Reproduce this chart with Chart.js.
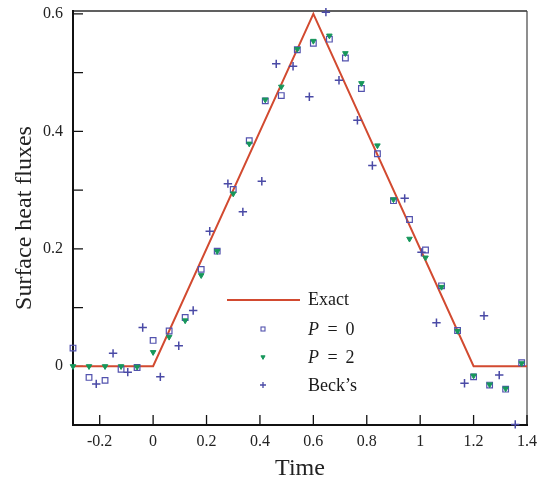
<!DOCTYPE html>
<html>
<head>
<meta charset="utf-8">
<script src="https://cdn.jsdelivr.net/npm/chart.js@4.4.1/dist/chart.umd.min.js"></script>
<style>
  html, body { margin: 0; padding: 0; background: #fff; }
</style>
</head>
<body>
<canvas id="fluxChart" width="537" height="481"></canvas>
<script>
// sample times of the two inverse solutions
const times = [-0.3, -0.24, -0.18, -0.12, -0.06, 0, 0.06, 0.12, 0.18, 0.24,
  0.3, 0.36, 0.42, 0.48, 0.54, 0.6, 0.66, 0.72, 0.78, 0.84,
  0.9, 0.96, 1.02, 1.08, 1.14, 1.2, 1.26, 1.32, 1.38];
const p0Values = [0.031, -0.019, -0.024, -0.005, -0.002, 0.044, 0.060, 0.083, 0.165, 0.196,
  0.301, 0.384, 0.452, 0.461, 0.539, 0.550, 0.557, 0.525, 0.473, 0.362,
  0.282, 0.250, 0.198, 0.137, 0.061, -0.018, -0.032, -0.039, 0.006];
const p2Values = [0, 0, 0, 0, -0.001, 0.024, 0.050, 0.078, 0.155, 0.196,
  0.294, 0.379, 0.454, 0.476, 0.540, 0.554, 0.563, 0.533, 0.482, 0.376,
  0.284, 0.217, 0.185, 0.135, 0.060, -0.016, -0.031, -0.038, 0.005];

// Beck's method
const becksTimes = [-0.213, -0.150, -0.095, -0.039, 0.027, 0.096, 0.150, 0.212, 0.280, 0.336,
  0.407, 0.461, 0.524, 0.585, 0.647, 0.696, 0.765, 0.821, 0.942, 1.005,
  1.061, 1.166, 1.239, 1.296, 1.356];
const becksValues = [-0.030, 0.022, -0.010, 0.066, -0.018, 0.035, 0.095, 0.230, 0.311, 0.263,
  0.315, 0.515, 0.511, 0.459, 0.603, 0.487, 0.419, 0.342, 0.286, 0.194,
  0.074, -0.029, 0.086, -0.015, -0.099];

// exact flux (triangular pulse)
const exactTimes = [-0.3, 0, 0.6, 1.2, 1.4];
const exactValues = [0, 0, 0.6, 0, 0];

const xTickValues = [-0.2, 0, 0.2, 0.4, 0.6, 0.8, 1, 1.2, 1.4];
const yTickValues = [0, 0.2, 0.4, 0.6];
const yMinorTicks = [0.1, 0.3, 0.5];

const seriesNames = ["Exact", "P = 0", "P = 2", "Beck\u2019s"];

const RED = "#d24a30";
const BLUE = "#5252ae";
const GREEN = "#17975b";
const PLUS = "#4a4aa6";
const FONT = "'Liberation Serif', 'DejaVu Serif', serif";

const pts = (xs, ys) => xs.map((x, i) => ({ x: x, y: ys[i] }));

// no extra room for overhanging tick labels, the layout padding handles it
function dropLabelPadding(scale) {
  scale.paddingLeft = 0;
  scale.paddingRight = 0;
  scale.paddingTop = 0;
  scale.paddingBottom = 0;
}

// frame, inward ticks and the in-plot legend
const framePlugin = {
  id: "frame",
  beforeDatasetsDraw(chart) {
    const { ctx, chartArea: a, scales } = chart;
    ctx.save();
    // top and right box lines
    ctx.strokeStyle = "#606060";
    ctx.lineWidth = 2;
    ctx.beginPath();
    ctx.moveTo(a.left, a.top);
    ctx.lineTo(a.right, a.top);
    ctx.stroke();
    ctx.strokeStyle = "#444";
    ctx.lineWidth = 1.2;
    ctx.beginPath();
    ctx.moveTo(a.right, a.top);
    ctx.lineTo(a.right, a.bottom);
    ctx.stroke();

    // inward ticks
    ctx.strokeStyle = "#111";
    ctx.lineWidth = 1.3;
    ctx.beginPath();
    yTickValues.concat(yMinorTicks).forEach((v) => {
      const y = scales.y.getPixelForValue(v);
      ctx.moveTo(a.left, y);
      ctx.lineTo(a.left + 10, y);
    });
    xTickValues.forEach((v) => {
      const x = scales.x.getPixelForValue(v);
      ctx.moveTo(x, a.bottom);
      ctx.lineTo(x, a.bottom - 10);
    });
    ctx.stroke();

    // left and bottom axes
    ctx.strokeStyle = "#111";
    ctx.lineWidth = 2;
    ctx.beginPath();
    ctx.moveTo(a.left, a.top - 1);
    ctx.lineTo(a.left, a.bottom);
    ctx.lineTo(a.right + 1, a.bottom);
    ctx.stroke();
    ctx.restore();
  },
  afterDraw(chart) {
    const { ctx } = chart;
    const lx = 263, tx = 308;
    const rows = [300, 329, 357, 385];
    ctx.save();
    // Exact line
    ctx.strokeStyle = RED;
    ctx.lineWidth = 2;
    ctx.beginPath();
    ctx.moveTo(227, rows[0]);
    ctx.lineTo(300, rows[0]);
    ctx.stroke();
    // markers
    ctx.strokeStyle = BLUE;
    ctx.lineWidth = 1.1;
    ctx.strokeRect(lx - 2, rows[1] - 2, 4, 4);
    ctx.fillStyle = GREEN;
    ctx.strokeStyle = GREEN;
    ctx.lineWidth = 1;
    Chart.helpers.drawPoint(ctx, { pointStyle: "triangle", radius: 2.4, rotation: 180, borderWidth: 1 }, lx, rows[2]);
    ctx.strokeStyle = PLUS;
    ctx.lineWidth = 1.3;
    Chart.helpers.drawPoint(ctx, { pointStyle: "cross", radius: 3, borderWidth: 1.3 }, lx, rows[3]);

    // labels
    ctx.fillStyle = "#1a1a1a";
    ctx.textBaseline = "middle";
    ctx.textAlign = "left";
    ctx.font = "18px " + FONT;
    ctx.fillText(seriesNames[0], tx, rows[0]);
    ctx.fillText(seriesNames[3], tx, rows[3] + 1);
    [1, 2].forEach((k) => {
      const parts = seriesNames[k].split(" = ");
      const y = rows[k] + 1;
      ctx.font = "italic 18px " + FONT;
      ctx.textAlign = "left";
      ctx.fillText(parts[0], tx, y);
      ctx.font = "18px " + FONT;
      ctx.textAlign = "center";
      ctx.fillText("=", tx + 24.5, y);
      ctx.fillText(parts[1], tx + 42, y);
    });
    ctx.restore();
  },
};

const ctx = document.getElementById("fluxChart").getContext("2d");
const fluxChart = new Chart(ctx, {
  type: "scatter",
  data: {
    datasets: [
      {
        label: seriesNames[0],
        type: "line",
        data: pts(exactTimes, exactValues),
        borderColor: RED,
        borderWidth: 2,
        pointRadius: 0,
        fill: false,
        tension: 0,
        order: 4,
        clip: false,
      },
      {
        label: seriesNames[1],
        data: pts(times, p0Values),
        pointStyle: "rect",
        pointRadius: 4,
        borderColor: BLUE,
        backgroundColor: "rgba(255,255,255,0)",
        borderWidth: 1.2,
        order: 3,
        clip: false,
      },
      {
        label: seriesNames[2],
        data: pts(times, p2Values),
        pointStyle: "triangle",
        rotation: 180,
        pointRadius: 3.2,
        borderColor: GREEN,
        backgroundColor: GREEN,
        borderWidth: 1,
        order: 2,
        clip: false,
      },
      {
        label: seriesNames[3],
        data: pts(becksTimes, becksValues),
        pointStyle: "cross",
        pointRadius: 4.2,
        borderColor: PLUS,
        borderWidth: 1.5,
        order: 1,
        clip: false,
      },
    ],
  },
  options: {
    responsive: false,
    animation: false,
    events: [],
    layout: { padding: { top: 11, right: 10, left: 0, bottom: 0 } },
    plugins: {
      legend: { display: false },
      tooltip: { enabled: false },
    },
    scales: {
      x: {
        type: "linear",
        min: -0.3,
        max: 1.4,
        afterBuildTicks: (scale) => {
          scale.ticks = xTickValues.map((v) => ({ value: v }));
        },
        afterFit: (scale) => {
          scale.height = 56;
          dropLabelPadding(scale);
        },
        grid: { display: false, drawTicks: false },
        border: { display: false },
        ticks: {
          color: "#222",
          font: { family: FONT, size: 16 },
          padding: 7,
          autoSkip: false,
          maxRotation: 0,
          callback: (v) => String(v),
        },
        title: {
          display: true,
          text: "Time",
          color: "#222",
          font: { family: FONT, size: 24, lineHeight: 1 },
          padding: { top: 0, bottom: 0 },
        },
      },
      y: {
        min: -0.1,
        max: 0.605,
        afterBuildTicks: (scale) => {
          scale.ticks = yTickValues.map((v) => ({ value: v }));
        },
        afterFit: (scale) => {
          scale.width = 73;
          dropLabelPadding(scale);
        },
        grid: { display: false, drawTicks: false },
        border: { display: false },
        ticks: {
          color: "#222",
          font: { family: FONT, size: 16 },
          padding: 10,
          autoSkip: false,
          callback: (v) => String(v),
        },
        title: {
          display: true,
          text: "Surface heat fluxes",
          color: "#222",
          font: { family: FONT, size: 24 },
          padding: { top: 10, bottom: 0 },
        },
      },
    },
  },
  plugins: [framePlugin],
});
</script>
</body>
</html>
